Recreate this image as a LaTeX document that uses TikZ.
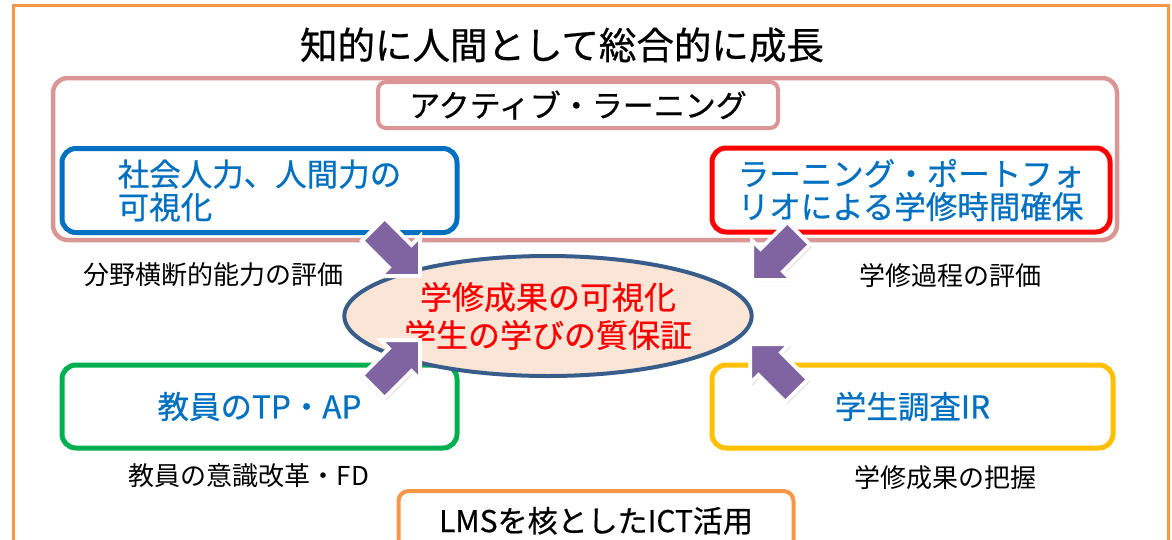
\documentclass[tikz,border=0pt]{standalone}
\usepackage{fontspec}
\newfontfamily\jp{Noto Sans CJK JP}
\newfontfamily\jpm[FakeBold=0.6]{Noto Sans CJK JP}
\usetikzlibrary{shapes.geometric,shapes.arrows,shadows}
\definecolor{frameorange}{HTML}{F79646}
\definecolor{activepink}{HTML}{D99694}
\definecolor{boxblue}{HTML}{0070C0}
\definecolor{boxred}{HTML}{FF0000}
\definecolor{boxgreen}{HTML}{00B050}
\definecolor{boxyellow}{HTML}{FFC000}
\definecolor{goalline}{HTML}{385D8A}
\definecolor{goalfill}{HTML}{FBE5D6}
\definecolor{pushpurple}{HTML}{8064A2}
\begin{document}
\begin{tikzpicture}[
    x=1pt, y=-1pt,
    every node/.style={font=\jp},
    box/.style={draw, rounded corners=14pt, line width=5pt, fill=white, minimum width=395pt, minimum height=84pt, align=left, text=boxblue, font=\jpm\fontsize{31.5}{33}\selectfont},
    note/.style={font=\jp\fontsize{26}{30}\selectfont},
    push/.style={single arrow, fill=pushpurple, draw=white, line width=4pt, minimum height=66pt, single arrow head extend=12pt, inner sep=14pt, anchor=tip, drop shadow={opacity=0.3, shadow xshift=2pt, shadow yshift=-2pt}}
]
    \clip (0,0) rectangle (1172,539);
    \fill[white] (0,0) rectangle (1172,539);

    % Outer frame and title
    \draw[frameorange, line width=3pt] (13,5) rectangle (1168,580);
    \node[font=\jpm\fontsize{37.5}{44}\selectfont] (title) at (562,45) {知的に人間として総合的に成長};

    % Active learning area
    \node[draw=activepink, line width=4.5pt, rounded corners=15pt, minimum width=1064pt, minimum height=162pt] (active) at (585,159) {};
    \node[draw=activepink, line width=4pt, rounded corners=8pt, fill=white, minimum width=400pt, minimum height=46pt, font=\jpm\fontsize{31}{34}\selectfont] (activelabel) at (578,105) {アクティブ・ラーニング};

    % Four boxes
    \node[box, draw=boxblue] (social) at (259.5,190.5) {社会人力、人間力の\\可視化};
    \node[box, draw=boxred, minimum width=398pt] (portfolio) at (911,190) {ラーニング・ポートフォ\\リオによる学修時間確保};
    \node[box, draw=boxgreen, minimum height=83pt] (faculty) at (259.5,406.5) {教員のTP・AP};
    \node[box, draw=boxyellow, minimum width=401pt, minimum height=83pt] (survey) at (912.5,406.5) {学生調査IR};

    % Notes under the boxes
    \node[note] (crossnote) at (213,275) {分野横断的能力の評価};
    \node[note] (processnote) at (950,276) {学修過程の評価};
    \node[note] (fdnote) at (249,476) {教員の意識改革・FD};
    \node[note] (outcomenote) at (945,478) {学修成果の把握};

    % Central goal
    \node[ellipse, draw=goalline, fill=goalfill, line width=4pt, minimum width=406pt, minimum height=120pt, inner sep=0pt, align=center, text=boxred, font=\jpm\fontsize{32}{38}\selectfont] (goal) at (548,316) {学修成果の可視化\\学生の学びの質保証};

    % Block arrows into the goal
    \node[push, rotate=-45] (pushsocial) at (422,278) {};
    \node[push, rotate=-135] (pushportfolio) at (750,282) {};
    \node[push, rotate=45] (pushfaculty) at (422,338) {};
    \node[push, rotate=135] (pushsurvey) at (748,342) {};

    % LMS base
    \node[draw=frameorange, line width=4pt, rounded corners=10pt, fill=white, minimum width=395pt, minimum height=60pt, font=\jpm\fontsize{30}{34}\selectfont] (lms) at (596,521) {\raisebox{3pt}{LMSを核としたICT活用}};
\end{tikzpicture}
\end{document}
